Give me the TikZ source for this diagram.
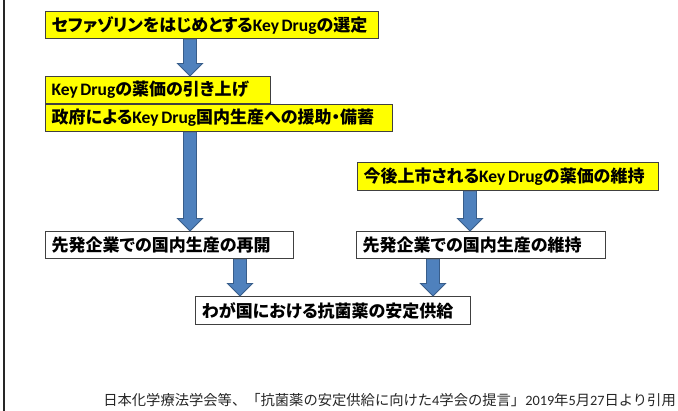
\documentclass[tikz,border=0pt]{standalone}
\usepackage{fontspec}
\setmainfont{Noto Sans CJK JP}[RawFeature=+palt]
\newfontfamily\jpfoot{Noto Sans CJK JP}
\newfontfamily\lat{Carlito}
\usetikzlibrary{calc}
\definecolor{boxyellow}{HTML}{FFFF00}
\definecolor{arrowfill}{HTML}{4F81BD}
\definecolor{arrowline}{HTML}{385D8A}
\newcommand\kd{{\lat\fontsize{17.5}{20}\selectfont Key\hspace{0.15em}Drug}}
\newcommand\blockarrow[2]{%
  \draw[barrow] let \p1=(#1), \p2=(#2) in
    (\x1-6.5pt,\y1) -- (\x1+6.5pt,\y1) -- (\x1+6.5pt,\y2+12.5pt) -- (\x1+12.5pt,\y2+12.5pt)
    -- (\x1,\y2) -- (\x1-12.5pt,\y2+12.5pt) -- (\x1-6.5pt,\y2+12.5pt) -- cycle;}
\begin{document}
\begin{tikzpicture}[x=1pt,y=-1pt,
  box/.style={draw=black!75, line width=1.3pt, inner xsep=6pt, inner ysep=0pt,
    minimum height=27pt, text width=#1, align=left, anchor=north west,
    font=\bfseries\fontsize{17}{18}\selectfont},
  ybox/.style={box=#1, fill=boxyellow},
  wbox/.style={box=#1, fill=white},
  barrow/.style={fill=arrowfill, draw=arrowline, line width=0.9pt}]
\useasboundingbox (0,0) rectangle (678,411);
\fill[white] (0,0) rectangle (678,411);
\draw[line width=1.5pt, black!85] (4,0) -- (4,411);

\coordinate (ax1) at (190,0);
\coordinate (ax2) at (470,0);
\coordinate (ax3) at (240,0);
\coordinate (ax4) at (433,0);

\node[ybox=321pt] (b1) at (45,11) {\mbox{セファゾリンをはじめとする\kd の選定}};
\node[ybox=213pt] (b2) at (45,76) {\mbox{\kd の薬価の引き上げ}};
\node[ybox=335pt] (b3) at (45,104) {\mbox{政府による\kd 国内生産への援助・備蓄}};
\node[ybox=289pt, minimum height=28pt] (b6) at (357,162) {\mbox{今後上市される\kd の薬価の維持}};
\node[wbox=236pt] (b4) at (45,231) {\mbox{先発企業での国内生産の再開}};
\node[wbox=237pt] (b5) at (356,231) {\mbox{先発企業での国内生産の維持}};
\node[wbox=263pt, minimum height=28pt] (b7) at (195,296) {\mbox{わが国における抗菌薬の安定供給}};

\blockarrow{b1.south -| ax1}{b2.north -| ax1}
\blockarrow{b3.south -| ax1}{b4.north -| ax1}
\blockarrow{b6.south -| ax2}{b5.north -| ax2}
\blockarrow{b4.south -| ax3}{b7.north -| ax3}
\blockarrow{b5.south -| ax4}{b7.north -| ax4}

\node[anchor=east, inner sep=0pt, font=\jpfoot\fontsize{14.3}{16}\selectfont, text=black!85] (src) at (676,400)
  {日本化学療法学会等、「抗菌薬の安定供給に向けた{\lat 4}学会の提言」{\lat 2019}年{\lat 5}月{\lat 27}日より引用};
\end{tikzpicture}
\end{document}
